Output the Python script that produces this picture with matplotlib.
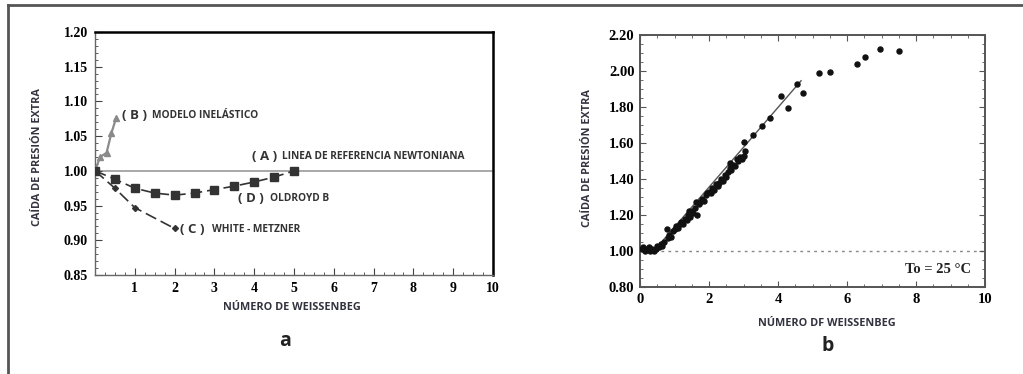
import matplotlib
matplotlib.use('Agg')
import matplotlib.pyplot as plt
from matplotlib.ticker import MultipleLocator
from matplotlib.lines import Line2D

# panel a: pressure drop vs Weissenberg number for each model
wi_b = [0.0, 0.13, 0.29, 0.41, 0.53]
dp_b = [1.000, 1.020, 1.026, 1.054, 1.076]

wi_d = [0.0, 0.5, 1.0, 1.5, 2.0, 2.5, 3.0, 3.5, 4.0, 4.5, 5.0]
dp_d = [1.000, 0.988, 0.975, 0.968, 0.965, 0.968, 0.973, 0.978, 0.984, 0.991, 1.000]

wi_c = [0.0, 0.5, 1.0, 2.0]
dp_c = [1.000, 0.975, 0.947, 0.917]

# panel b: measured points
wi_exp = [0.05, 0.10, 0.15, 0.20, 0.25, 0.30, 0.35, 0.40, 0.45, 0.50, 0.55, 0.60,
          0.65, 0.70, 0.77, 0.82, 0.85, 0.90, 0.95, 1.00, 1.05, 1.10, 1.15, 1.20,
          1.25, 1.30, 1.35, 1.40, 1.42, 1.45, 1.50, 1.55, 1.60, 1.62, 1.65, 1.70,
          1.75, 1.80, 1.85, 1.90, 1.95, 2.00, 2.05, 2.10, 2.15, 2.20, 2.25, 2.30,
          2.35, 2.40, 2.45, 2.50, 2.55, 2.60, 2.62, 2.65, 2.70, 2.75, 2.80, 2.85,
          2.90, 2.95, 3.00, 3.04, 3.02, 3.28, 3.53, 3.77, 4.08, 4.28, 4.55, 4.72,
          5.19, 5.51, 6.29, 6.53, 6.96, 7.51]
dp_exp = [1.01, 1.02, 1.00, 1.01, 1.02, 1.00, 1.01, 1.00, 1.01, 1.03, 1.02, 1.04,
          1.03, 1.05, 1.12, 1.07, 1.09, 1.08, 1.11, 1.12, 1.14, 1.13, 1.15, 1.16,
          1.15, 1.18, 1.17, 1.20, 1.22, 1.19, 1.22, 1.21, 1.24, 1.27, 1.20, 1.26,
          1.27, 1.29, 1.28, 1.31, 1.32, 1.33, 1.32, 1.35, 1.34, 1.37, 1.36, 1.38,
          1.40, 1.39, 1.42, 1.41, 1.44, 1.49, 1.46, 1.45, 1.48, 1.47, 1.51, 1.50,
          1.52, 1.51, 1.53, 1.557, 1.607, 1.644, 1.694, 1.74, 1.86, 1.795, 1.93,
          1.88, 1.99, 1.996, 2.037, 2.08, 2.12, 2.113]
fit_x = [0.40, 4.67]
fit_y = [1.000, 1.946]

plt.rcParams['font.family'] = ['Liberation Serif', 'DejaVu Serif']

fig = plt.figure(figsize=(10.23, 3.74), dpi=100)

# outer frame (top and left only, the image is cropped)
fig.add_artist(Line2D([8 / 1023, 1], [1 - 5 / 374] * 2, color='#555555', lw=2))
fig.add_artist(Line2D([8 / 1023] * 2, [0, 1 - 5 / 374], color='#555555', lw=2))

sans = ['Open Sans', 'DejaVu Sans']
lab_col = '#333340'
ann_col = '#333333'

# ---- panel a ----
ax1 = fig.add_axes([95 / 1023, 1 - 275 / 374, 398 / 1023, 243 / 374])
ax1.axhline(1.0, color='#9a9a9a', lw=1.2, zorder=1)
ax1.plot(wi_b, dp_b, color='#8a8a8a', lw=1.6, marker='^', ms=5, zorder=3)
ax1.plot(wi_d, dp_d, color='#333333', lw=1.2, ls=(0, (7, 3)), marker='s', ms=5.5, zorder=3)
ax1.plot(wi_c, dp_c, color='#333333', lw=1.2, ls=(0, (7, 3)), marker='D', ms=3, zorder=3)

ax1.set_xlim(0, 10)
ax1.set_ylim(0.85, 1.20)
ax1.set_xticks(range(1, 11))
ax1.set_yticks([0.85, 0.90, 0.95, 1.00, 1.05, 1.10, 1.15, 1.20])
ax1.set_yticklabels(['0.85', '0.90', '0.95', '1.00', '1.05', '1.10', '1.15', '1.20'])
ax1.xaxis.set_minor_locator(MultipleLocator(0.25))
ax1.yaxis.set_minor_locator(MultipleLocator(0.01))
ax1.tick_params(which='both', direction='in', top=False, right=False, color='#444444')
ax1.tick_params(which='major', length=5, labelsize=10, pad=5)
ax1.tick_params(which='minor', length=2.5)
for t in ax1.get_xticklabels() + ax1.get_yticklabels():
    t.set_fontweight('bold')
for s in ['top', 'right']:
    ax1.spines[s].set_linewidth(1.8)
for s in ['left', 'bottom']:
    ax1.spines[s].set_linewidth(1.0)
    ax1.spines[s].set_color('#666666')

ax1.text(0.67, 1.080, '( B )', fontsize=9.5, fontweight='bold', family=sans, va='center', color=ann_col)
ax1.text(1.42, 1.080, 'MODELO INELÁSTICO', fontsize=7.3, fontweight='bold', family=sans, va='center', color=ann_col)
ax1.text(3.94, 1.020, '( A )', fontsize=9.5, fontweight='bold', family=sans, va='center', color=ann_col)
ax1.text(4.69, 1.020, 'LINEA DE REFERENCIA NEWTONIANA', fontsize=7.3, fontweight='bold', family=sans, va='center', color=ann_col)
ax1.text(3.60, 0.9595, '( D )', fontsize=9.5, fontweight='bold', family=sans, va='center', color=ann_col)
ax1.text(4.40, 0.9595, 'OLDROYD B', fontsize=7.3, fontweight='bold', family=sans, va='center', color=ann_col)
ax1.text(2.14, 0.916, '( C )', fontsize=9.5, fontweight='bold', family=sans, va='center', color=ann_col)
ax1.text(2.93, 0.916, 'WHITE - METZNER', fontsize=7.3, fontweight='bold', family=sans, va='center', color=ann_col)

fig.text(291.7 / 1023, 1 - 308 / 374, 'NÚMERO DE WEISSENBEG', family=sans, fontsize=7.8,
         fontweight='bold', color=lab_col, ha='center', va='center')
fig.text(37.5 / 1023, 1 - 157.5 / 374, 'CAÍDA DE PRESIÓN EXTRA', family=sans, fontsize=7.8,
         fontweight='bold', color=lab_col, ha='center', va='center', rotation=90)
fig.text(285 / 1023, 1 - 341 / 374, 'a', family=sans, fontsize=14, fontweight='bold',
         color='#222222', ha='center', va='center')

# ---- panel b ----
ax2 = fig.add_axes([640 / 1023, 1 - 287 / 374, 345 / 1023, 252 / 374])
ax2.axhline(1.0, xmin=0.04, color='#888888', lw=1.0, ls=(0, (2, 3)), zorder=1)
ax2.plot(fit_x, fit_y, color='#555555', lw=1.0, zorder=2)
ax2.scatter(wi_exp, dp_exp, s=13, color='#111111', zorder=3)

ax2.set_xlim(0, 10)
ax2.set_ylim(0.80, 2.20)
ax2.set_xticks([0, 2, 4, 6, 8, 10])
ax2.set_yticks([0.80, 1.00, 1.20, 1.40, 1.60, 1.80, 2.00, 2.20])
ax2.set_yticklabels(['0.80', '1.00', '1.20', '1.40', '1.60', '1.80', '2.00', '2.20'])
ax2.xaxis.set_minor_locator(MultipleLocator(0.5))
ax2.yaxis.set_minor_locator(MultipleLocator(0.05))
ax2.tick_params(which='both', direction='in', top=True, right=True, color='#555555')
ax2.tick_params(which='major', length=4, labelsize=10.5, pad=4)
ax2.tick_params(which='minor', length=2)
for t in ax2.get_xticklabels() + ax2.get_yticklabels():
    t.set_fontweight('bold')
for s in ax2.spines.values():
    s.set_linewidth(1.4)
    s.set_color('#555555')

ax2.text(0.96, 0.07, 'To = 25 °C', transform=ax2.transAxes, ha='right', va='center',
         fontsize=10.5, fontweight='bold', color='#222222')

fig.text(826.7 / 1023, 1 - 323 / 374, 'NÚMERO DF WEISSENBEG', family=sans, fontsize=7.8,
         fontweight='bold', color=lab_col, ha='center', va='center')
fig.text(587.5 / 1023, 1 - 158 / 374, 'CAÍDA DE PRESIÓN EXTRA', family=sans, fontsize=7.8,
         fontweight='bold', color=lab_col, ha='center', va='center', rotation=90)
fig.text(828 / 1023, 1 - 346 / 374, 'b', family=sans, fontsize=14, fontweight='bold',
         color='#222222', ha='center', va='center')

fig.savefig('out.png', dpi=100)
